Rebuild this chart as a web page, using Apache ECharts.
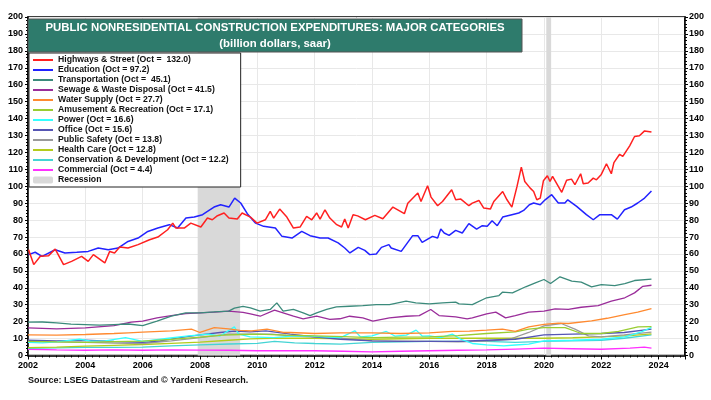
<!DOCTYPE html>
<html>
<head>
<meta charset="utf-8">
<script src="https://cdn.jsdelivr.net/npm/echarts@6/dist/echarts.min.js"></script>
<style>
  html, body { margin: 0; padding: 0; background: #fff; }
  #chart { width: 711px; height: 400px; }
</style>
</head>
<body>
<div id="chart"></div>
<script>
// values, [year, billion $]
const highways = [[2002.02,62.5],[2002.2,53.7],[2002.43,58.6],[2002.72,59],[2002.95,62.9],[2003.24,53.7],[2003.52,55.6],[2003.87,58.6],[2004.1,55.6],[2004.28,59.6],[2004.68,54.7],[2004.85,61.5],[2005.02,60.6],[2005.2,64.1],[2005.49,63.5],[2005.84,65.5],[2006.24,68.4],[2006.53,70],[2006.87,74.3],[2007.05,78.2],[2007.16,75.3],[2007.45,75.3],[2007.68,78.2],[2008.03,75.9],[2008.26,81.2],[2008.43,80.2],[2008.61,82.6],[2008.84,84.2],[2009.01,81.2],[2009.3,80.6],[2009.47,84.2],[2009.76,81.8],[2009.99,78.2],[2010.28,80.2],[2010.45,85.1],[2010.57,81.2],[2010.78,86.5],[2011.03,81.8],[2011.26,75.3],[2011.49,75.9],[2011.72,82.2],[2011.9,80.2],[2012.07,84.2],[2012.19,80.6],[2012.36,86.1],[2012.53,81.2],[2012.77,77.3],[2012.94,75.9],[2013.05,80.6],[2013.17,75.3],[2013.34,83.2],[2013.5,82.5],[2013.77,80.2],[2014.1,82.8],[2014.38,80.8],[2014.73,87.7],[2015.13,83.8],[2015.25,90],[2015.6,96],[2015.71,91],[2015.94,100.3],[2016.06,93.6],[2016.29,88.5],[2016.46,91],[2016.78,97.9],[2016.92,92],[2017.1,92.4],[2017.38,88.5],[2017.5,90],[2017.73,91.6],[2017.9,87.1],[2018.13,86.5],[2018.25,91],[2018.56,96.9],[2018.71,92],[2018.88,87.7],[2019.06,99.9],[2019.21,111.3],[2019.33,102.8],[2019.52,98.9],[2019.64,96.9],[2019.75,92],[2019.87,93],[2019.98,103.2],[2020.12,106.2],[2020.21,102.8],[2020.3,105.8],[2020.62,96.4],[2020.79,103.5],[2020.96,104.2],[2021.08,100.9],[2021.28,107.4],[2021.37,101.5],[2021.54,101.9],[2021.72,104.8],[2021.83,103.8],[2022.0,107],[2022.18,113.3],[2022.35,107.4],[2022.44,114],[2022.64,118.9],[2022.75,117.6],[2022.99,123.9],[2023.16,129.4],[2023.33,129.8],[2023.51,132.7],[2023.75,132.0]];
const education = [[2002.02,59.6],[2002.25,61],[2002.49,58.6],[2002.95,62.5],[2003.29,60.6],[2003.7,61],[2004.1,61.5],[2004.45,63.5],[2004.8,62.5],[2005.14,63.5],[2005.49,67.4],[2005.84,69.4],[2006.18,73.3],[2006.53,75.3],[2006.93,77.3],[2007.22,75.3],[2007.51,81.2],[2007.8,81.8],[2008.09,83.2],[2008.26,85.1],[2008.49,87.7],[2008.72,89.1],[2009.01,87.7],[2009.21,93],[2009.42,90.1],[2009.65,83.8],[2009.94,78.2],[2010.22,76.3],[2010.63,75.3],[2010.86,70.4],[2011.21,69.4],[2011.55,73.3],[2011.84,70.8],[2012.19,69.4],[2012.47,69.4],[2012.82,66.5],[2013.05,63.5],[2013.23,60.6],[2013.52,63.9],[2013.75,62.1],[2013.92,59.6],[2014.15,60],[2014.33,63.9],[2014.59,65.5],[2014.67,63.5],[2015.02,61.5],[2015.42,70.8],[2015.6,70.8],[2015.75,66.8],[2016.11,70.4],[2016.29,69.4],[2016.4,74.7],[2016.52,72.4],[2016.69,71],[2016.92,73.9],[2017.15,72.4],[2017.38,77.9],[2017.65,74.7],[2017.85,76.7],[2018.02,76.3],[2018.19,79.6],[2018.37,76.7],[2018.56,81.8],[2018.88,83.2],[2019.12,84.2],[2019.29,85.7],[2019.49,89.1],[2019.64,90.1],[2019.87,89.1],[2020.04,92],[2020.27,95],[2020.5,90.1],[2020.73,90.1],[2020.83,92],[2021.14,88.1],[2021.48,83.2],[2021.72,80.2],[2021.95,83.2],[2022.35,83.2],[2022.56,80.6],[2022.81,86.1],[2023.04,87.7],[2023.27,90.1],[2023.51,93],[2023.75,97.2]];
const transportation = [[2002,19.7],[2002.5,19.8],[2003,19.3],[2003.5,18.5],[2004,18.3],[2004.5,18],[2005,18.3],[2005.5,18.6],[2006,17.7],[2006.5,20.3],[2007,23.2],[2007.5,25.2],[2008,25.2],[2008.5,25.8],[2009,26.2],[2009.2,28],[2009.5,29],[2009.76,28.1],[2010.1,26.2],[2010.45,27.2],[2010.68,31.1],[2010.9,26.2],[2011.26,27.2],[2011.6,25.2],[2011.84,23.6],[2012.07,25.2],[2012.42,27.2],[2012.76,28.7],[2013.22,29.1],[2013.68,29.5],[2014.15,30.1],[2014.61,30.1],[2015.19,32.1],[2015.53,31.1],[2016,30.5],[2016.46,31.1],[2016.92,31.5],[2017.04,30.5],[2017.5,30.1],[2018,34.1],[2018.43,35.4],[2018.55,37.4],[2018.9,37],[2019.36,40.6],[2019.7,42.9],[2020,44.9],[2020.23,42.5],[2020.56,46.5],[2020.97,43.9],[2021.3,43.3],[2021.66,40.6],[2022,41.9],[2022.47,41.3],[2022.82,42.5],[2023.16,44.3],[2023.75,45.1]];
const sewage = [[2002,16.3],[2003,15.7],[2004,16.3],[2005,17.7],[2005.6,19.7],[2006,20.3],[2006.5,22.2],[2007,23.6],[2007.5,24.8],[2008,25.2],[2008.5,25.6],[2009,26.2],[2009.5,25.5],[2009.76,24.6],[2010.1,23.2],[2010.6,26.8],[2010.9,25.2],[2011.26,23.2],[2011.6,21.7],[2012.07,23.2],[2012.53,21.3],[2012.88,21.7],[2013.22,23.2],[2013.68,22.2],[2014.03,20.3],[2014.61,22.2],[2015.19,23.2],[2015.65,23.6],[2016.05,27.2],[2016.34,23.6],[2016.92,22.8],[2017.32,21.7],[2017.5,22.2],[2018,24.6],[2018.32,25.6],[2018.66,22.2],[2019,23.6],[2019.47,25.6],[2020,26.2],[2020.39,27.6],[2020.85,27.2],[2021.3,28.5],[2021.89,29.5],[2022.35,32.1],[2022.82,34.1],[2023.16,37],[2023.45,40.9],[2023.75,41.5]];
const water = [[2002,12.2],[2003,12],[2004,12.4],[2005,13],[2005.5,13.4],[2006,13.8],[2007,14.6],[2007.7,15.6],[2008,13.6],[2008.5,16.5],[2009,15.7],[2009.4,14.8],[2009.8,14.6],[2010.34,15.6],[2010.9,13.6],[2011.15,13.6],[2012,13],[2012.9,13.4],[2014,13.4],[2015,13],[2016,13.4],[2016.8,14.2],[2017.4,14.4],[2018,15],[2018.55,15.6],[2019,14.2],[2019.47,16.9],[2020,18.4],[2020.5,19.1],[2020.85,18.9],[2021.66,20.4],[2022.2,22],[2022.82,24.2],[2023.27,25.6],[2023.75,27.7]];
const amusement = [[2002,8.3],[2003,8],[2004,7.8],[2005,8.2],[2006,8.5],[2007,9.5],[2008,10.8],[2008.8,12],[2009.42,12.4],[2010,12.6],[2011,12],[2012,11.6],[2013,11.2],[2014,10.6],[2015,10.8],[2016,11],[2017,11.8],[2018,13],[2019,14],[2019.47,15.6],[2020,16.5],[2020.74,16.5],[2021.3,13],[2022,13],[2022.6,14.2],[2023.28,16.9],[2023.75,17.1]];
const power = [[2002,7.7],[2002.5,7.5],[2003,8],[2003.8,9.6],[2004.2,8.5],[2004.7,8.7],[2005.4,10.6],[2006,8.3],[2006.9,10.2],[2007.6,11.6],[2008.3,12.6],[2008.7,11.5],[2009.2,16.9],[2009.35,12.6],[2009.75,11],[2010.57,10.6],[2011.2,11.5],[2011.7,11.6],[2012.3,11],[2012.9,10.6],[2013.4,14.6],[2013.6,11],[2014,11.6],[2014.5,14.2],[2014.8,11.5],[2015.2,12],[2015.54,15],[2015.75,11.5],[2016,11.6],[2016.4,10.5],[2016.8,12.6],[2017.1,9.6],[2017.5,7.1],[2018,6.3],[2018.6,5.7],[2019,6.2],[2019.47,6.7],[2020,8.7],[2021,9],[2022,9.6],[2022.82,11],[2023.4,14],[2023.75,16.6]];
const office = [[2002,9],[2003,8.7],[2004,9],[2005,8.3],[2006,7.7],[2006.6,8.7],[2007.3,10.6],[2008,12.2],[2008.7,13.6],[2009.2,14.4],[2009.75,14],[2010.3,14.6],[2011.15,12.6],[2012,11],[2012.9,9.6],[2014,8.7],[2015,8.3],[2016,8.3],[2017,8.3],[2018,9],[2019,9.6],[2020,12.2],[2021,12.6],[2022,13],[2022.8,13.6],[2023.75,15.6]];
const publicSafety = [[2002,8.3],[2003,8],[2004,7.7],[2005,7.4],[2006,7.1],[2007,8.7],[2008,10.6],[2009,12.6],[2009.75,12.6],[2010.5,12.6],[2011.15,11.6],[2012.9,10.2],[2014,8.7],[2016,8.3],[2017,8],[2018,8.5],[2018.8,9.6],[2019.47,13.6],[2020,17.5],[2020.6,18.9],[2021.08,15.6],[2021.55,11.6],[2022,11],[2022.8,12.2],[2023.75,13.8]];
const healthCare = [[2002,4.7],[2003,5],[2004,5.5],[2005,6],[2006,6.5],[2007,7.2],[2008,7.9],[2009,9],[2009.75,9.8],[2010.5,10.2],[2012,10.2],[2014,9.6],[2016,10.2],[2017,10.2],[2018,10.2],[2019,10.2],[2020,10.2],[2021,10.5],[2022,11],[2023,11.8],[2023.75,12.8]];
const conservation = [[2002,4.2],[2003,4.5],[2004,4.8],[2005,4.8],[2006,5],[2007,5.7],[2008,6.3],[2009,6.8],[2010,7.2],[2010.6,8.3],[2011.3,7.5],[2012,7.1],[2012.9,6.7],[2014,7.7],[2015,8],[2016,8.3],[2017,8.3],[2018,8.3],[2019,7.7],[2020,8.3],[2021,8.6],[2022,9],[2022.8,10.2],[2023.75,12.2]];
const commercial = [[2002,3.7],[2003,3.3],[2004,3.1],[2005,3.3],[2006,3.1],[2007,3.3],[2008,3.2],[2009,3.1],[2010,2.8],[2011,2.9],[2012,2.8],[2013,2.5],[2014,2.2],[2015,2.5],[2016,2.8],[2017,3.1],[2018,3.3],[2019,3.8],[2020,4.3],[2021,4],[2022,3.7],[2023,4.3],[2023.5,5],[2023.75,4.4]];

const recessions = [[2007.92, 2009.4], [2020.08, 2020.25]];

const names = ['Highways & Street (Oct =  132.0)', 'Education (Oct = 97.2)', 'Transportation (Oct =  45.1)',
  'Sewage & Waste Disposal (Oct = 41.5)', 'Water Supply (Oct = 27.7)', 'Amusement & Recreation (Oct = 17.1)',
  'Power (Oct = 16.6)', 'Office (Oct = 15.6)', 'Public Safety (Oct = 13.8)', 'Health Care (Oct = 12.8)',
  'Conservation & Development (Oct = 12.2)', 'Commercial (Oct = 4.4)'];
const colors = ['#ff2020', '#2222ff', '#3b8a7b', '#9a2d9a', '#ff8a30', '#9acd32', '#33ffff', '#5656b4',
  '#9a9a9a', '#b4cc1c', '#44d4d4', '#ff30ff'];
const values = [highways, education, transportation, sewage, water, amusement, power, office,
  publicSafety, healthCare, conservation, commercial];

const font = 'Arial, "Liberation Sans", sans-serif';
const chart = echarts.init(document.getElementById('chart'));

const lineSeries = values.map((d, i) => ({
  name: names[i],
  type: 'line',
  data: d,
  symbol: 'none',
  showSymbol: false,
  itemStyle: { color: colors[i], opacity: 0 },
  lineStyle: { color: colors[i], width: i < 2 ? 1.5 : 1.3 },
  z: 3
}));
// draw the big two on top, as in the original
lineSeries.reverse();

const option = {
  animation: false,
  grid: { left: 28, right: 26, top: 17, bottom: 44.5, show: true, borderColor: '#000', borderWidth: 1.5 },
  legend: {
    orient: 'vertical',
    left: 29, top: 53,
    z: 50,
    data: names.concat(['Recession']),
    backgroundColor: '#fff',
    borderColor: '#222',
    borderWidth: 1,
    padding: [2, 12, 2, 3],
    itemWidth: 20, itemHeight: 7, itemGap: 0,
    textStyle: { fontFamily: font, fontSize: 8.7, fontWeight: 'bold', color: '#111', lineHeight: 10 },
    selectedMode: false
  },
  xAxis: {
    type: 'value', min: 2002, max: 2024.92, interval: 2,
    axisLine: { lineStyle: { color: '#000', width: 1.5 } },
    axisTick: { length: 4, lineStyle: { color: '#000' } },
    minorTick: { show: true, splitNumber: 8, length: 2, lineStyle: { color: '#000' } },
    axisLabel: {
      fontFamily: font, fontSize: 9, fontWeight: 'bold', color: '#000', margin: 6, showMaxLabel: false,
      formatter: v => (Number.isInteger(v) ? String(v) : '')
    },
    splitLine: { lineStyle: { color: '#e8e8e8' } }
  },
  yAxis: [{
    type: 'value', min: 0, max: 200, interval: 10, position: 'left',
    axisLine: { show: true, lineStyle: { color: '#000', width: 1.5 } },
    axisTick: { show: true, length: 3, lineStyle: { color: '#000' } },
    minorTick: { show: true, splitNumber: 5, length: 2, lineStyle: { color: '#000' } },
    axisLabel: { fontFamily: font, fontSize: 9, fontWeight: 'bold', color: '#000', margin: 5 },
    splitLine: { lineStyle: { color: '#e8e8e8' } }
  }, {
    type: 'value', min: 0, max: 200, interval: 10, position: 'right',
    axisLine: { show: true, lineStyle: { color: '#000', width: 1.5 } },
    axisTick: { show: true, length: 3, lineStyle: { color: '#000' } },
    minorTick: { show: true, splitNumber: 5, length: 2, lineStyle: { color: '#000' } },
    axisLabel: { fontFamily: font, fontSize: 9, fontWeight: 'bold', color: '#000', margin: 4 },
    splitLine: { show: false }
  }],
  series: [{
    name: 'Recession',
    type: 'bar',
    data: [],
    itemStyle: { color: '#d9d9d9' },
    markArea: {
      silent: true,
      itemStyle: { color: '#d9d9d9' },
      data: recessions.map(r => [{ xAxis: r[0] }, { xAxis: r[1] }])
    },
    z: 1
  }].concat(lineSeries),
  graphic: [{
    type: 'rect', z: 100,
    shape: { x: 28, y: 19, width: 494, height: 33 },
    style: { fill: '#2e7b6c', stroke: '#555', lineWidth: 1 }
  }, {
    type: 'text', z: 101, x: 275, y: 28,
    style: { text: 'PUBLIC NONRESIDENTIAL CONSTRUCTION EXPENDITURES: MAJOR CATEGORIES', fill: '#fff',
      font: 'bold 11.4px ' + font, textAlign: 'center', textVerticalAlign: 'middle' }
  }, {
    type: 'text', z: 101, x: 275, y: 43.5,
    style: { text: '(billion dollars, saar)', fill: '#fff',
      font: 'bold 11.4px ' + font, textAlign: 'center', textVerticalAlign: 'middle' }
  }, {
    type: 'text', left: 28, top: 376,
    style: { text: 'Source: LSEG Datastream and \u00a9 Yardeni Research.', fill: '#111', font: 'bold 9px ' + font }
  }]
};

chart.setOption(option);
</script>
</body>
</html>
